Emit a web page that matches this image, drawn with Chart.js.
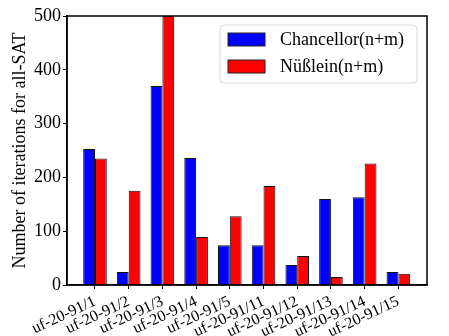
<!DOCTYPE html>
<html>
<head>
<meta charset="utf-8">
<script src="https://cdn.jsdelivr.net/npm/chart.js@4/dist/chart.umd.min.js"></script>
<style>
html,body{margin:0;padding:0;background:#fff;}
#wrap{width:449px;height:336px;}
</style>
</head>
<body>
<div id="wrap"><canvas id="c" width="449" height="336"></canvas></div>
<script>
const categories = ["uf-20-91/1","uf-20-91/2","uf-20-91/3","uf-20-91/4","uf-20-91/5","uf-20-91/11","uf-20-91/12","uf-20-91/13","uf-20-91/14","uf-20-91/15"];
const chancellor = [253, 24, 370, 236, 74, 74, 37, 160, 163, 24];
const nusslein = [235, 175, 500, 89, 128, 184, 54, 15, 226, 21];
const yTicks = [0, 100, 200, 300, 400, 500];
const seriesNames = ["Chancellor(n+m)", "Nüßlein(n+m)"];
const seriesColors = ["#0000ff", "#ff0000"];
const yTitle = "Number of iterations for all-SAT";

const SERIF = "'Liberation Serif','DejaVu Serif',serif";

const framePlugin = {
  id: 'frame',
  afterDatasetsDraw(chart) {
    const {ctx, chartArea: a} = chart;
    ctx.save();
    ctx.strokeStyle = '#000';
    ctx.lineWidth = 1.5;
    ctx.strokeRect(a.left, a.top, a.right - a.left, a.bottom - a.top);
    ctx.restore();
  },
  afterDraw(chart) {
    const {ctx, chartArea: a} = chart;
    ctx.save();
    const x0 = a.right - 207, y0 = a.top + 9, w = 197, h = 58;
    ctx.beginPath();
    ctx.roundRect(x0, y0, w, h, 4);
    ctx.fillStyle = 'rgba(255,255,255,0.8)';
    ctx.fill();
    ctx.strokeStyle = '#d9d9d9';
    ctx.lineWidth = 1;
    ctx.stroke();
    ctx.font = "18px " + SERIF;
    ctx.textBaseline = 'middle';
    chart.data.datasets.forEach((ds, i) => {
      const py = y0 + 8 + i * 27;
      ctx.fillStyle = ds.backgroundColor;
      ctx.fillRect(x0 + 8, py, 37, 13);
      ctx.strokeStyle = '#222';
      ctx.lineWidth = 1;
      ctx.strokeRect(x0 + 8, py, 37, 13);
      ctx.fillStyle = '#000';
      ctx.fillText(ds.label, x0 + 60, py + 7);
    });
    ctx.restore();
  }
};

new Chart(document.getElementById('c'), {
  type: 'bar',
  data: {
    datasets: [0, 1].map(k => ({
      label: seriesNames[k],
      data: (k === 0 ? chancellor : nusslein).map((v, i) => ({x: i, y: v})),
      backgroundColor: seriesColors[k],
      borderColor: '#111',
      borderWidth: 1,
      categoryPercentage: 0.7,
      barPercentage: 1.0
    }))
  },
  options: {
    responsive: false,
    animation: false,
    devicePixelRatio: 1,
    layout: {padding: {top: 16, right: 22, left: 0, bottom: 0}},
    plugins: {legend: {display: false}, tooltip: {enabled: false}},
    scales: {
      x: {
        type: 'linear',
        offset: false,
        min: -0.83,
        max: 9.85,
        afterBuildTicks(scale) { scale.ticks = categories.map((c, i) => ({value: i})); },
        afterFit(scale) { scale.height = 51; },
        grid: {offset: false, drawOnChartArea: false, drawTicks: true, tickLength: 4, color: '#000', lineWidth: 1},
        border: {display: true, color: '#000', width: 1.5},
        ticks: {
          autoSkip: false,
          maxRotation: 25, minRotation: 25,
          padding: 3,
          color: '#000',
          font: {family: SERIF, size: 16},
          callback: (v) => categories[v]
        }
      },
      y: {
        min: 0, max: 500,
        afterBuildTicks(scale) { scale.ticks = yTicks.map(v => ({value: v})); },
        afterFit(scale) { scale.width = 67; },
        grid: {drawOnChartArea: false, drawTicks: true, tickLength: 4, color: '#000', lineWidth: 1},
        border: {display: true, color: '#000', width: 1.5},
        ticks: {padding: 2, color: '#000', font: {family: SERIF, size: 18}},
        title: {display: true, text: yTitle, color: '#000', font: {family: SERIF, size: 18}, padding: {top: 9, bottom: 0}}
      }
    }
  },
  plugins: [framePlugin]
});
</script>
</body>
</html>
